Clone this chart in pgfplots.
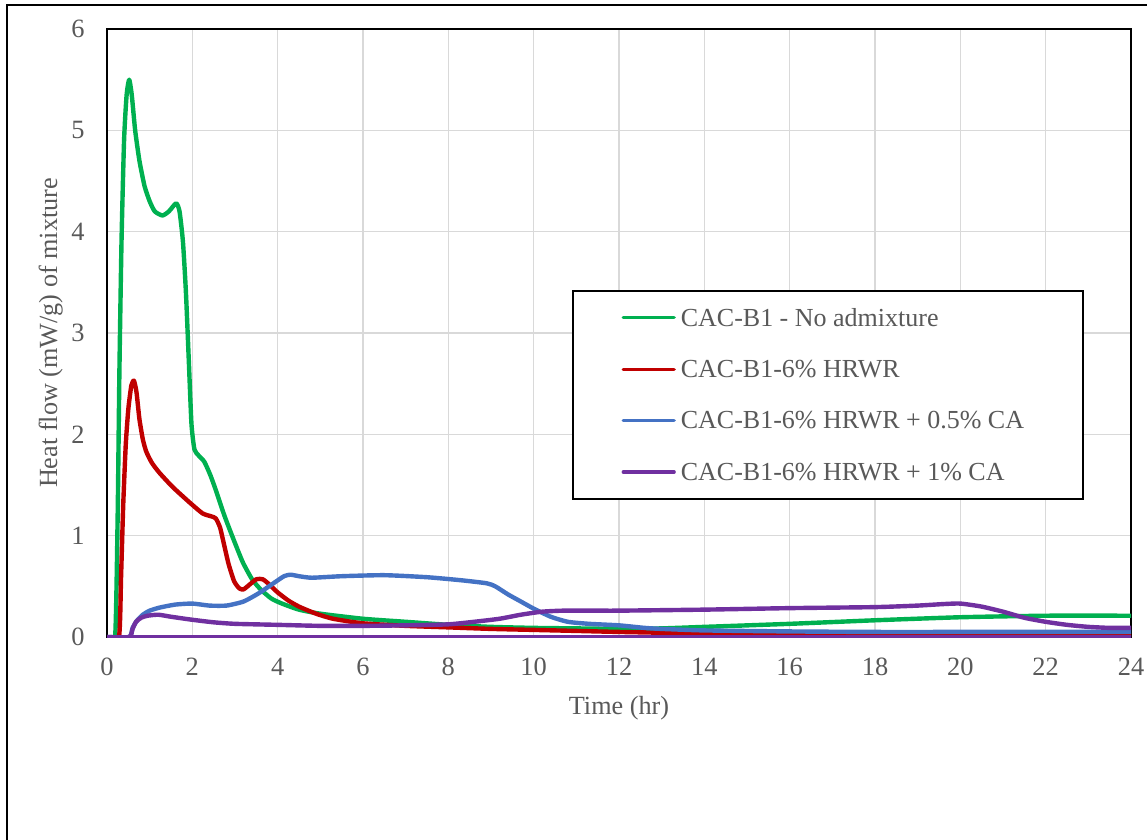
\documentclass[border=0pt]{standalone}
\usepackage{pgfplots}
\pgfplotsset{compat=1.18}
\usepackage{fontspec}
\setmainfont{Liberation Serif}
\definecolor{cgreen}{HTML}{00B050}
\definecolor{cred}{HTML}{C00000}
\definecolor{cblue}{HTML}{4472C4}
\definecolor{cpurple}{HTML}{7030A0}
\definecolor{tgray}{HTML}{595959}
\definecolor{gridc}{HTML}{D9D9D9}
\newcommand{\lt}[1]{\makebox[176.85pt][l]{#1}}
\begin{document}
\begin{tikzpicture}
\useasboundingbox (0,0) rectangle (573.5pt,-420pt);
\draw[line width=1pt] (3.5pt,-440pt) -- (3.5pt,-2.5pt) -- (600pt,-2.5pt);
\begin{axis}[
  at={(53.5pt,-318.5pt)}, anchor=south west,
  width=512pt, height=304pt, scale only axis,
  xmin=0, xmax=24, ymin=0, ymax=6,
  xtick={0,2,...,24}, ytick={0,1,...,6},
  grid=major, major grid style={color=gridc, line width=0.8pt},
  axis line style={black, line width=1pt},
  major tick length=0pt,
  tick label style={font=\fontsize{13.2}{15}\selectfont, text=tgray},
  /pgf/number format/assume math mode=true,
  xticklabel style={inner sep=0pt, yshift=-10.5pt, anchor=north},
  yticklabel style={inner sep=0pt, xshift=-11pt, anchor=east},
  xlabel={Time (hr)}, ylabel={Heat flow (mW/g) of mixture},
  label style={font=\fontsize{13.1}{15}\selectfont, text=tgray},
  xlabel style={at={(axis description cs:0.5,-0.1168)}, anchor=center},
  ylabel style={at={(axis description cs:-0.0550,0.5)}, anchor=center},
  legend cell align=left,
  legend style={at={(0.4541,0.5707)}, anchor=north west, draw=black, line width=1pt, fill=white,
    inner xsep=24.3pt, inner ysep=0.5pt, row sep=0pt,
    font=\fontsize{13}{15}\selectfont, text=tgray,
    nodes={inner sep=0pt, text height=17pt, text depth=8.7pt},
    /tikz/every odd column/.append style={column sep=2.5pt}},
  legend image code/.code={\draw[#1, line width=1.6pt] (0pt,0pt) -- (25.5pt,0pt);},
  every axis plot/.append style={line width=2.2pt, smooth, tension=0.35, line join=round, line cap=round},
]
\addplot[cgreen] coordinates {
(0,0) (0.19,0) (0.25,1.2) (0.29,2.6) (0.34,3.9) (0.40,4.9) (0.46,5.35) (0.52,5.5)
(0.58,5.35) (0.66,5.0) (0.76,4.7) (0.88,4.45) (1.0,4.3) (1.12,4.2) (1.3,4.16) (1.45,4.2)
(1.62,4.28) (1.70,4.2) (1.78,3.9) (1.85,3.4) (1.92,2.7) (1.98,2.1) (2.05,1.85) (2.15,1.79)
(2.28,1.73) (2.42,1.6) (2.55,1.45) (2.75,1.2) (2.95,0.98) (3.18,0.74) (3.4,0.57) (3.6,0.47)
(3.85,0.38) (4.1,0.33) (4.5,0.27) (5,0.23) (6,0.18) (7,0.15) (8,0.12) (9,0.1) (10,0.09)
(11,0.085) (12,0.08) (13,0.085) (14,0.1) (16,0.13) (18,0.165) (20,0.195) (22,0.21) (24,0.21)};
\addlegendentry{\lt{CAC-B1 - No admixture}}
\addplot[cred] coordinates {
(0,0) (0.28,0) (0.33,0.6) (0.38,1.3) (0.44,1.9) (0.5,2.25) (0.57,2.48) (0.63,2.53)
(0.69,2.42) (0.76,2.15) (0.84,1.95) (0.92,1.83) (1.05,1.72) (1.23,1.62) (1.54,1.48)
(1.93,1.33) (2.24,1.22) (2.45,1.19) (2.55,1.17) (2.65,1.08) (2.75,0.9) (2.85,0.72)
(2.98,0.55) (3.1,0.48) (3.2,0.47) (3.35,0.52) (3.5,0.57) (3.65,0.57) (3.8,0.52) (4.0,0.44)
(4.25,0.36) (4.5,0.30) (4.9,0.23) (5.3,0.18) (6,0.135) (7,0.11) (8,0.095) (9,0.08)
(10,0.07) (11,0.06) (12,0.05) (14,0.035) (16,0.03) (18,0.025) (20,0.022) (22,0.02) (24,0.02)};
\addlegendentry{\lt{CAC-B1-6\% HRWR}}
\addplot[cblue] coordinates {
(0,0) (0.52,0) (0.6,0.09) (0.7,0.16) (0.84,0.22) (1.0,0.26) (1.23,0.29) (1.6,0.32)
(2.0,0.33) (2.4,0.31) (2.8,0.31) (3.2,0.35) (3.55,0.43) (3.9,0.53) (4.15,0.6) (4.3,0.615)
(4.5,0.6) (4.8,0.585) (5.5,0.6) (6.5,0.61) (7.5,0.59) (8.3,0.56) (8.9,0.53) (9.1,0.5)
(9.4,0.42) (9.7,0.35) (10,0.28) (10.4,0.2) (10.8,0.15) (11.3,0.13) (12,0.115) (12.6,0.09)
(13,0.08) (14,0.065) (16,0.055) (18,0.05) (20,0.05) (22,0.05) (24,0.05)};
\addlegendentry{\lt{CAC-B1-6\% HRWR + 0.5\% CA}}
\addplot[cpurple] coordinates {
(0,0) (0.52,0) (0.6,0.08) (0.68,0.15) (0.8,0.19) (0.95,0.21) (1.2,0.22) (1.5,0.2)
(2.0,0.17) (2.5,0.145) (3.0,0.13) (4,0.12) (5,0.11) (6,0.11) (7,0.115) (8,0.125)
(8.6,0.15) (9.2,0.18) (9.7,0.22) (10.2,0.25) (10.7,0.26) (11.5,0.26) (12,0.26) (14,0.27)
(16,0.285) (18,0.295) (19,0.31) (19.6,0.325) (20,0.33) (20.5,0.3) (21,0.25) (21.5,0.19)
(22,0.15) (22.5,0.12) (23,0.1) (23.5,0.09) (24,0.09)};
\addlegendentry{\lt{CAC-B1-6\% HRWR + 1\% CA}}
\addplot[cpurple, forget plot] coordinates {(0,0) (24,0)};
\end{axis}
\end{tikzpicture}
\end{document}
